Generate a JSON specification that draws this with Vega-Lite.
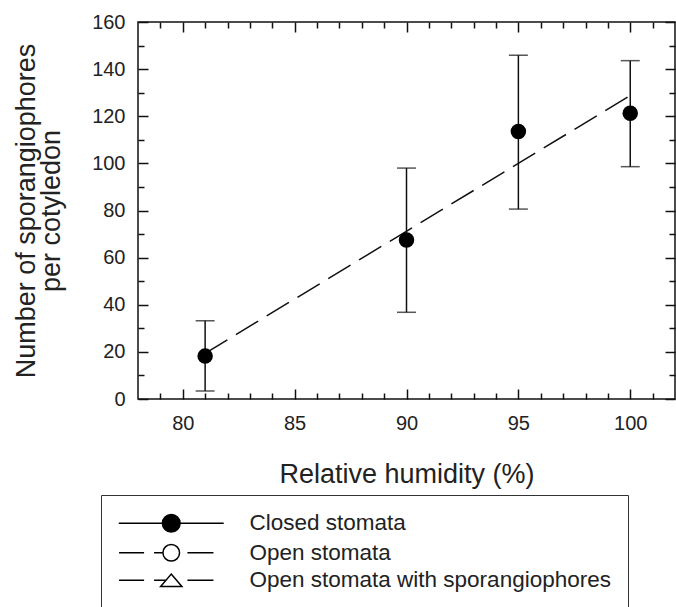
{
  "$schema": "https://vega.github.io/schema/vega-lite/v6.json",
  "width": 537,
  "height": 377,
  "autosize": {"type": "none"},
  "padding": {"left": 138, "top": 22, "right": 1, "bottom": 208},
  "background": "white",
  "config": {
    "view": {"stroke": "#111", "strokeWidth": 1.5},
    "font": "Liberation Sans",
    "axis": {
      "domain": false, "grid": false, "tickColor": "#111", "tickWidth": 1.5,
      "labelColor": "#222", "titleColor": "#222", "labelFont": "Liberation Sans", "titleFont": "Liberation Sans",
      "titleFontWeight": "normal", "labelFontSize": 20, "titleFontSize": 27
    },
    "legend": {
      "title": null, "orient": "none", "legendX": -37, "legendY": 473,
      "strokeColor": "#333", "fillColor": "white", "padding": 17, "cornerRadius": 0,
      "symbolSize": 313, "symbolStrokeWidth": 1.5,
      "symbolOffset": 42, "labelOffset": 67, "labelFontSize": 22.5, "labelFont": "Liberation Sans", "labelColor": "#222",
      "rowPadding": 4.5, "labelLimit": 500
    }
  },
  "datasets": {
    "obs": [
      {"rh": 81, "mean": 18.2, "lo": 3.4, "hi": 33.2},
      {"rh": 90, "mean": 67.5, "lo": 36.8, "hi": 98.0},
      {"rh": 95, "mean": 113.5, "lo": 80.6, "hi": 145.9},
      {"rh": 100, "mean": 121.3, "lo": 98.6, "hi": 143.6}
    ],
    "fit": [
      {"rh": 81, "fit": 19.4},
      {"rh": 100, "fit": 128.8}
    ],
    "legend": [
      {"series": "Closed stomata"},
      {"series": "Open stomata"},
      {"series": "Open stomata with sporangiophores"}
    ]
  },
  "resolve": {"axis": {"x": "independent", "y": "independent"}},
  "layer": [
    {
      "data": {"name": "obs"},
      "mark": {"type": "rule", "color": "#111", "strokeWidth": 1.5},
      "encoding": {
        "x": {"field": "rh", "type": "quantitative", "scale": {"domain": [78, 102], "nice": false, "zero": false},
          "axis": {"orient": "bottom", "values": [79, 81, 82, 83, 84, 86, 87, 88, 89, 91, 92, 93, 94, 96, 97, 98, 99, 101], "tickSize": -6, "labels": false, "title": null}},
        "y": {"field": "lo", "type": "quantitative", "scale": {"domain": [0, 160], "nice": false, "zero": false},
          "axis": {"orient": "left", "values": [10, 30, 50, 70, 90, 110, 130, 150], "tickSize": -6, "labels": false, "title": null}},
        "y2": {"field": "hi"}
      }
    },
    {
      "data": {"name": "obs"},
      "mark": {"type": "tick", "orient": "horizontal", "color": "#111", "size": 19, "thickness": 1.5},
      "encoding": {
        "x": {"field": "rh", "type": "quantitative", "scale": {"domain": [78, 102], "nice": false, "zero": false},
          "axis": {"orient": "top", "values": [79, 81, 82, 83, 84, 86, 87, 88, 89, 91, 92, 93, 94, 96, 97, 98, 99, 101], "tickSize": -6, "labels": false, "title": null}},
        "y": {"field": "lo", "type": "quantitative", "scale": {"domain": [0, 160], "nice": false, "zero": false},
          "axis": {"orient": "right", "values": [10, 30, 50, 70, 90, 110, 130, 150], "tickSize": -6, "labels": false, "title": null}}
      }
    },
    {
      "data": {"name": "obs"},
      "mark": {"type": "tick", "orient": "horizontal", "color": "#111", "size": 19, "thickness": 1.5},
      "encoding": {
        "x": {"field": "rh", "type": "quantitative", "scale": {"domain": [78, 102], "nice": false, "zero": false},
          "axis": {"orient": "top", "values": [80, 85, 90, 95, 100], "tickSize": -10, "labels": false, "title": null}},
        "y": {"field": "hi", "type": "quantitative", "scale": {"domain": [0, 160], "nice": false, "zero": false},
          "axis": {"orient": "right", "values": [0, 20, 40, 60, 80, 100, 120, 140, 160], "tickSize": -10, "labels": false, "title": null}}
      }
    },
    {
      "data": {"name": "fit"},
      "mark": {"type": "line", "color": "#111", "strokeWidth": 1.5, "strokeDash": [26, 10]},
      "encoding": {
        "x": {"field": "rh", "type": "quantitative", "scale": {"domain": [78, 102], "nice": false, "zero": false},
          "axis": {"orient": "bottom", "values": [80, 85, 90, 95, 100], "tickSize": -10, "labelPadding": 24.5,
            "title": "Relative humidity (%)", "titlePadding": 28}},
        "y": {"field": "fit", "type": "quantitative", "scale": {"domain": [0, 160], "nice": false, "zero": false},
          "axis": {"orient": "left", "values": [0, 20, 40, 60, 80, 100, 120, 140, 160], "tickSize": -10, "labelPadding": 23,
            "title": ["Number of sporangiophores", "per cotyledon"], "titlePadding": 26, "titleLineHeight": 25}}
      }
    },
    {
      "data": {"name": "obs"},
      "mark": {"type": "point", "filled": true, "shape": "circle", "size": 240, "color": "black", "opacity": 1},
      "encoding": {
        "x": {"field": "rh", "type": "quantitative", "scale": {"domain": [78, 102], "nice": false, "zero": false}, "axis": null},
        "y": {"field": "mean", "type": "quantitative", "scale": {"domain": [0, 160], "nice": false, "zero": false}, "axis": null}
      }
    },
    {
      "data": {"name": "legend"},
      "transform": [{"filter": "false"}],
      "mark": {"type": "point", "strokeWidth": 1.5, "opacity": 1},
      "encoding": {
        "shape": {
          "field": "series", "type": "nominal",
          "scale": {
            "domain": ["Closed stomata", "Open stomata", "Open stomata with sporangiophores"],
            "range": [
              "M-5.93,0L5.93,0M1,0A1,1,0,1,1,-1,0A1,1,0,1,1,1,0Z",
              "M-5.9,0L-3.07,0M-1.94,0L-0.94,0M1.83,0L4.77,0M0.94,0A0.94,0.94,0,1,1,-0.94,0A0.94,0.94,0,1,1,0.94,0Z",
              "M-5.9,0L-3.07,0M-1.94,0L-0.6,0M1.83,0L4.77,0M0,-0.7L1.2,0.7L-1.2,0.7Z"
            ]
          },
          "legend": {"title": null}
        },
        "fill": {
          "field": "series", "type": "nominal",
          "scale": {
            "domain": ["Closed stomata", "Open stomata", "Open stomata with sporangiophores"],
            "range": ["black", "white", "white"]
          },
          "legend": {"title": null}
        },
        "stroke": {
          "field": "series", "type": "nominal",
          "scale": {
            "domain": ["Closed stomata", "Open stomata", "Open stomata with sporangiophores"],
            "range": ["black", "black", "black"]
          },
          "legend": {"title": null}
        }
      }
    }
  ]
}
